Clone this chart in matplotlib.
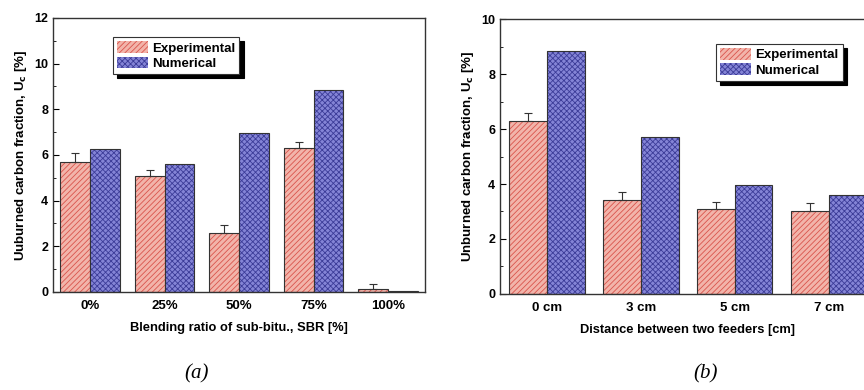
import numpy as np
import matplotlib.pyplot as plt
from matplotlib.ticker import MultipleLocator

plt.rcParams['font.family'] = ['Liberation Sans', 'DejaVu Sans']
plt.rcParams['font.weight'] = 'bold'
plt.rcParams['hatch.linewidth'] = 0.6

# panel (a): blending ratio
sbr_labels = ['0%', '25%', '50%', '75%', '100%']
exp_a = [5.7, 5.1, 2.6, 6.3, 0.15]
exp_a_err = [0.4, 0.25, 0.35, 0.25, 0.2]
num_a = [6.25, 5.6, 6.95, 8.85, 0.05]

# panel (b): distance between feeders
dist_labels = ['0 cm', '3 cm', '5 cm', '7 cm']
exp_b = [6.3, 3.42, 3.08, 3.03]
exp_b_err = [0.28, 0.3, 0.28, 0.27]
num_b = [8.84, 5.7, 3.95, 3.6]

exp_face = '#f2b4aa'
exp_hatch = '#d9544c'
num_face = '#8484d6'
num_hatch = '#3c3c98'


def panel(ax, labels, exp, err, num, ymax, ylabel, xlabel, leg_anchor):
    x = np.arange(len(labels))
    w = 0.4
    b1 = ax.bar(x - w / 2, exp, w, color=exp_face, edgecolor=exp_hatch,
                hatch='//////', linewidth=0, label='Experimental')
    ax.bar(x - w / 2, exp, w, fill=False, edgecolor='#333333', linewidth=0.8)
    ax.errorbar(x - w / 2, exp, yerr=[np.zeros(len(err)), err], fmt='none',
                ecolor='#333333', elinewidth=0.8, capsize=3, capthick=0.8)
    b2 = ax.bar(x + w / 2, num, w, color=num_face, edgecolor=num_hatch,
                hatch='xxxxxx', linewidth=0, label='Numerical')
    ax.bar(x + w / 2, num, w, fill=False, edgecolor='#333333', linewidth=0.8)

    ax.set_xlim(-0.5, len(labels) - 0.5)
    ax.set_ylim(0, ymax)
    ax.set_xticks(x)
    ax.set_xticklabels(labels, fontsize=9.5, fontweight='bold')
    ax.yaxis.set_major_locator(MultipleLocator(2))
    ax.yaxis.set_minor_locator(MultipleLocator(1))
    ax.tick_params(axis='y', which='both', direction='in', labelsize=9)
    ax.tick_params(axis='y', which='major', length=4)
    ax.tick_params(axis='y', which='minor', length=2)
    ax.tick_params(axis='x', length=0, pad=6)
    for s in ax.spines.values():
        s.set_linewidth(1.0)
        s.set_color('#333333')
    ax.set_ylabel(ylabel, fontsize=9.5, fontweight='bold')
    ax.set_xlabel(xlabel, fontsize=9.3, fontweight='bold', labelpad=7)
    leg = ax.legend([b1, b2], ['Experimental', 'Numerical'], loc='upper left',
                    bbox_to_anchor=leg_anchor, borderaxespad=0, fancybox=False,
                    shadow={'color': 'black', 'alpha': 1, 'ox': 3, 'oy': -3},
                    prop={'size': 9.5, 'weight': 'bold'}, handlelength=2.4,
                    handleheight=1.0, handletextpad=0.3, labelspacing=0.15,
                    borderpad=0.3)
    leg.get_frame().set_edgecolor('#333333')
    leg.get_frame().set_linewidth(0.8)


fig = plt.figure(figsize=(8.64, 3.9), dpi=100)
ax1 = fig.add_axes([0.0613, 0.2513, 0.431, 0.7026])
ax2 = fig.add_axes([0.5787, 0.2462, 0.435, 0.705])

panel(ax1, sbr_labels, exp_a, exp_a_err, num_a, 12,
      'Uuburned carbon fraction, U$_\\mathbf{c}$ [%]',
      'Blending ratio of sub-bitu., SBR [%]', (0.16, 0.93))
panel(ax2, dist_labels, exp_b, exp_b_err, num_b, 10,
      'Unburned carbon fraction, U$_\\mathbf{c}$ [%]',
      'Distance between two feeders [cm]', (0.574, 0.909))

fig.text(0.228, 0.03, '(a)', fontsize=15, family='Liberation Serif',
         style='italic', fontweight='normal', ha='center')
fig.text(0.816, 0.03, '(b)', fontsize=15, family='Liberation Serif',
         style='italic', fontweight='normal', ha='center')

fig.savefig('out.png', dpi=100)
